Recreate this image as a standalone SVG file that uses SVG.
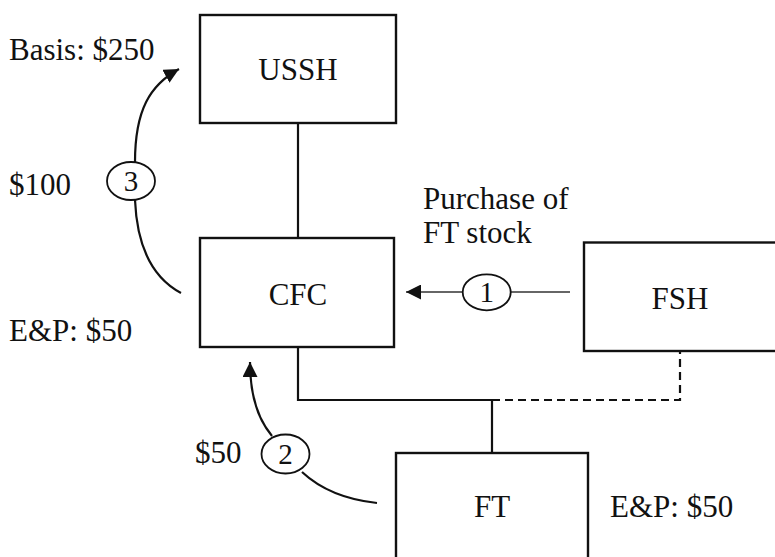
<svg xmlns="http://www.w3.org/2000/svg" width="775" height="557" viewBox="0 0 775 557">
<style>
text{font-family:"Liberation Serif","Times New Roman",serif;font-size:31px;fill:#111}
.box{fill:#fff;stroke:#111;stroke-width:2.4}
.c{text-anchor:middle}
.num{font-size:29px;text-anchor:middle}
.ln{fill:none;stroke:#111;stroke-width:2.2}
.thin{fill:none;stroke:#333;stroke-width:1.3}
.dash{fill:none;stroke:#111;stroke-width:2.2;stroke-dasharray:8 5}
.circ{fill:#fff;stroke:#111;stroke-width:1.8}
</style>
<defs>
<marker id="ah" markerUnits="userSpaceOnUse" markerWidth="15" markerHeight="15" refX="15" refY="7.5" orient="auto">
<path d="M0,0 L15,7.5 L0,15 z" fill="#111"/>
</marker>
</defs>
<g id="connectors">
<path class="ln" d="M298,123 V238"/>
<path class="ln" d="M298,347 V400 H492 V453"/>
<path class="dash" d="M492,400 H680 V351"/>
<path class="thin" d="M570,292 H510"/>
<path class="thin" d="M463,292 H406" marker-end="url(#ah)"/>
<path class="ln" d="M135,162 C135,110 150,85 179,69" marker-end="url(#ah)"/>
<path class="ln" d="M181,293 Q138,270 135,200"/>
<path class="ln" d="M272,436 Q250,410 250,362" marker-end="url(#ah)"/>
<path class="ln" d="M302,472 Q330,498 377,503"/>
</g>
<g id="USSH"><rect class="box" x="200" y="15" width="196" height="108"/><text class="c" x="298" y="80">USSH</text></g>
<g id="CFC"><rect class="box" x="200" y="238" width="194" height="109"/><text class="c" x="298" y="305">CFC</text></g>
<g id="FSH"><rect class="box" x="584" y="242.5" width="200" height="108.5"/><text class="c" x="680" y="309">FSH</text></g>
<g id="FT"><rect class="box" x="396" y="453" width="192" height="120"/><text class="c" x="492" y="517">FT</text></g>
<g id="step1"><ellipse class="circ" cx="486.7" cy="292.3" rx="24" ry="18"/><text class="num" x="486.7" y="302.3">1</text></g>
<g id="step2"><ellipse class="circ" cx="285.5" cy="454" rx="24" ry="19.5"/><text class="num" x="285.5" y="464">2</text></g>
<g id="step3"><ellipse class="circ" cx="131" cy="181" rx="24" ry="19"/><text class="num" x="131" y="191">3</text></g>
<g id="labels">
<text x="9" y="60">Basis: $250</text>
<text x="9" y="195">$100</text>
<text x="9" y="341">E&amp;P: $50</text>
<text x="195" y="463">$50</text>
<text x="610" y="517">E&amp;P: $50</text>
<text x="423" y="209">Purchase of</text>
<text x="423" y="243">FT stock</text>
</g>
</svg>
